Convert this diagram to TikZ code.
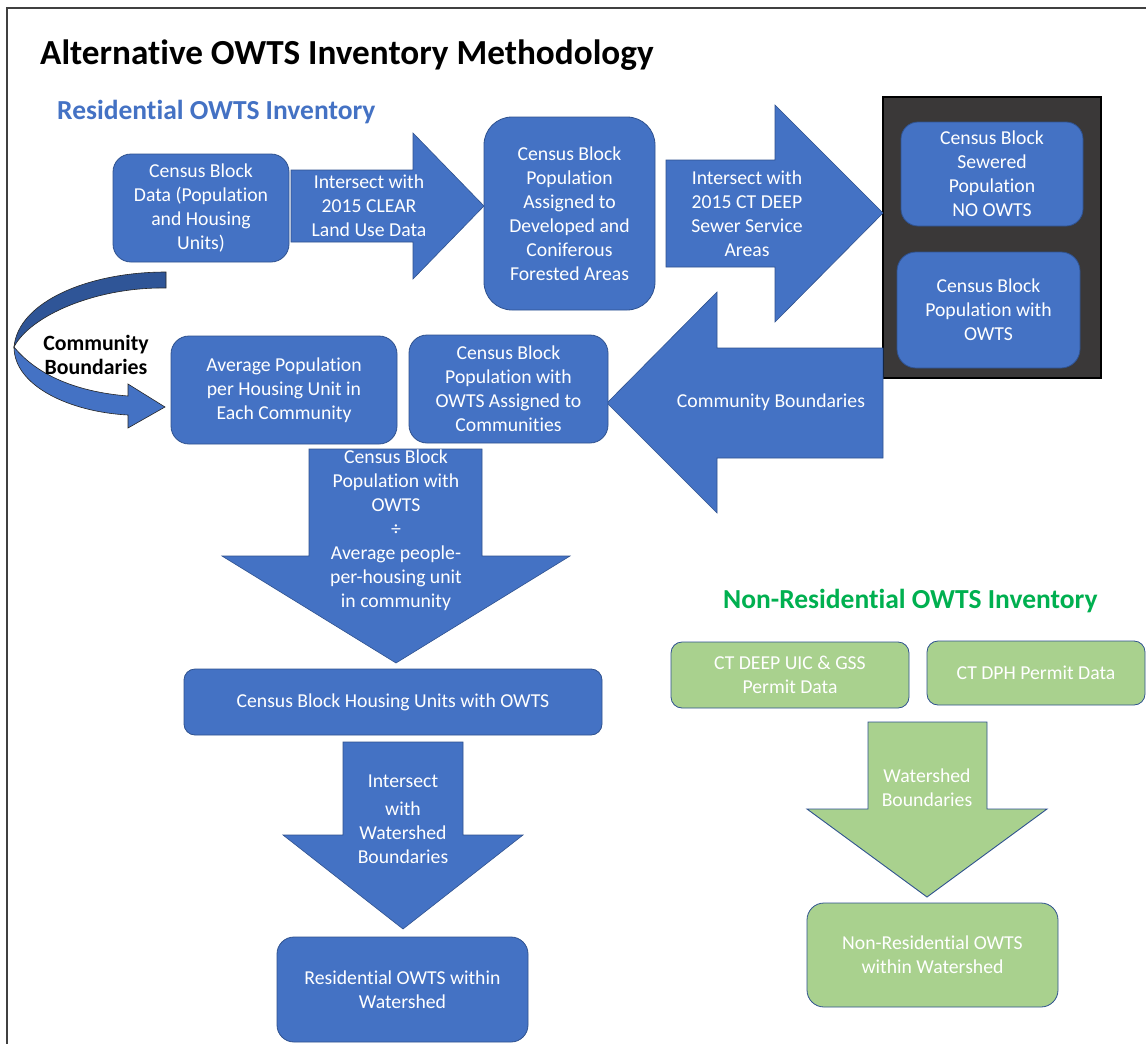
\documentclass[tikz,border=0pt]{standalone}
\usepackage{fontspec}
\setmainfont{Carlito}[Ligatures=NoCommon]
\definecolor{obl}{HTML}{4472C4}
\definecolor{obord}{HTML}{2F528F}
\definecolor{ogr}{HTML}{A9D18E}
\definecolor{ogrh}{HTML}{00B050}
\definecolor{odark}{HTML}{3A3838}
\definecolor{oband}{HTML}{2F5597}
\definecolor{oframe}{HTML}{404040}
\begin{document}
\begin{tikzpicture}[x=1pt,y=-1pt,
  boxtxt/.style={align=center, inner sep=0pt, text=white, font=\fontsize{19.7}{24}\selectfont},
  bluebox/.style={boxtxt, fill=obl, draw=obord, line width=0.8pt},
  greenbox/.style={boxtxt, fill=ogr, draw=obord, line width=0.8pt},
  bluearrow/.style={fill=obl, draw=obord, line width=0.6pt},
  greenarrow/.style={fill=ogr, draw=obord, line width=0.9pt},
  arrowtxt/.style={boxtxt},
  heading/.style={anchor=base west, inner sep=0pt, font=\bfseries\fontsize{27.5}{32}\selectfont}
]
\useasboundingbox (0,0) rectangle (1146,1044);
\clip (0,0) rectangle (1146,1044);
\fill[white] (0,0) rectangle (1146,1044);
% frame
\draw[oframe, line width=1.6pt] (7,1100) -- (7,8) -- (1200,8);

% headings
\node[anchor=base west, inner sep=0pt, font=\bfseries\fontsize{35.2}{40}\selectfont] (title) at (40,64) {Alternative OWTS Inventory Methodology};
\node[heading, text=obl] (reshead) at (57,119) {Residential OWTS Inventory};
\node[heading, text=ogrh] (nonreshead) at (723,608) {Non-Residential OWTS Inventory};

% dark container
\draw[fill=odark, draw=black, line width=1.2pt] (883,97) rectangle (1101,378);

% block arrows
\path[bluearrow] (291,170) -- (413,170) -- (413,133) -- (484,206) -- (413,279) -- (413,242) -- (291,242) -- cycle;
\path[bluearrow] (666,160) -- (775,160) -- (775,105) -- (883,213) -- (775,322) -- (775,267) -- (666,267) -- cycle;
\path[bluearrow] (883,348) -- (717,348) -- (717,292) -- (607,403) -- (717,513) -- (717,458) -- (883,458) -- cycle;
\path[bluearrow] (309,449) -- (482,449) -- (482,556) -- (570,556) -- (396,663) -- (222,556) -- (309,556) -- cycle;
\path[bluearrow] (343,742) -- (463,742) -- (463,835) -- (523,835) -- (403,929) -- (283,835) -- (343,835) -- cycle;
\path[greenarrow] (868,722) -- (987,722) -- (987,809) -- (1047,809) -- (927,897) -- (807,809) -- (868,809) -- cycle;

% curved arrow
\path[fill=oband, draw=black!85, line width=0.6pt] (166,272) .. controls (88,272) and (18,302) .. (14,347) .. controls (30,316) and (95,287) .. (166,288) -- cycle;
\path[fill=obl, draw=black!85, line width=0.6pt] (14,347) .. controls (14,386) and (70,412) .. (128,415) -- (128,428) -- (165,407) -- (128,384) -- (128,396) .. controls (78,392) and (38,376) .. (14,347) -- cycle;
\node[align=center, inner sep=0pt, font=\bfseries\fontsize{21.8}{24.5}\selectfont] (cb) at (96,355) {Community\\Boundaries};

% boxes
\node[bluebox, minimum width=176pt, minimum height=108pt, rounded corners=18pt] (A) at (201,208) {Census Block\\Data (Population\\and Housing\\Units)};
\node[bluebox, minimum width=171pt, minimum height=193pt, rounded corners=28pt] (B) at (569.5,213.5) {Census Block\\Population\\Assigned to\\Developed and\\Coniferous\\Forested Areas};
\node[bluebox, minimum width=182pt, minimum height=104pt, rounded corners=17pt] (C1) at (992,174) {Census Block\\Sewered\\Population\\NO OWTS};
\node[bluebox, minimum width=183pt, minimum height=116pt, rounded corners=19pt] (C2) at (988.5,310) {Census Block\\Population with\\OWTS};
\node[bluebox, minimum width=226pt, minimum height=108pt, rounded corners=18pt] (D) at (284,390) {Average Population\\per Housing Unit in\\Each Community};
\node[bluebox, minimum width=199pt, minimum height=108pt, rounded corners=18pt] (E) at (508.5,389) {Census Block\\Population with\\OWTS Assigned to\\Communities};
\node[bluebox, minimum width=418pt, minimum height=66pt, rounded corners=11pt] (F) at (393,702) {Census Block Housing Units with OWTS};
\node[bluebox, minimum width=251pt, minimum height=105pt, rounded corners=17pt] (G) at (402.5,989.5) {Residential OWTS within\\Watershed};
\node[greenbox, minimum width=238pt, minimum height=66pt, rounded corners=11pt] (H1) at (790,675) {CT DEEP UIC \& GSS\\Permit Data};
\node[greenbox, minimum width=218pt, minimum height=64pt, rounded corners=11pt] (H2) at (1036,673) {CT DPH Permit Data};
\node[greenbox, minimum width=251pt, minimum height=104pt, rounded corners=17pt] (I) at (932.5,955) {Non-Residential OWTS\\within Watershed};

% arrow labels
\node[arrowtxt] (t1) at (369,206) {Intersect with\\2015 CLEAR\\Land Use Data};
\node[arrowtxt] (t2) at (747,214) {Intersect with\\2015 CT DEEP\\Sewer Service\\Areas};
\node[arrowtxt] (t3) at (771,402) {Community Boundaries};
\node[arrowtxt] (t4) at (396,530) {Census Block\\Population with\\OWTS\\÷\\Average people-\\per-housing unit\\in community};
\node[arrowtxt] (t5) at (403,819) {Intersect\\[4pt]with\\Watershed\\Boundaries};
\node[arrowtxt] (t6) at (927,788) {Watershed\\Boundaries};
\end{tikzpicture}
\end{document}
